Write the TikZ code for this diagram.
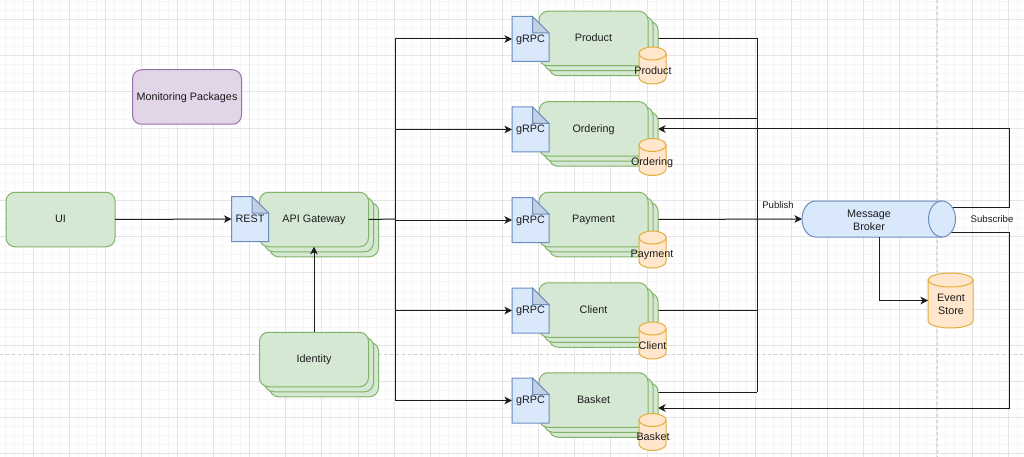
\documentclass[tikz,border=0pt]{standalone}
\usepackage{fontspec}
\setmainfont{Liberation Sans}
\usetikzlibrary{arrows.meta}
\definecolor{greenfill}{HTML}{D5E8D4}
\definecolor{greenline}{HTML}{82B366}
\definecolor{bluefill}{HTML}{DAE8FC}
\definecolor{blueline}{HTML}{6C8EBF}
\definecolor{foldfill}{HTML}{C3CFE2}
\definecolor{orangefill}{HTML}{FFE6CC}
\definecolor{orangeline}{HTML}{E3AE3C}
\definecolor{purplefill}{HTML}{E1D5E7}
\definecolor{purpleline}{HTML}{9673A6}
\definecolor{gridmajor}{HTML}{E4E4E4}
\definecolor{gridminor}{HTML}{F6F6F6}
\definecolor{pageline}{HTML}{CFCFCF}
\definecolor{ink}{HTML}{1C1C1C}
\pgfdeclarelayer{under}
\pgfsetlayers{under,main}
\tikzset{
  basetext/.style={text=ink,font=\fontsize{10.8}{13}\selectfont,align=center,inner sep=0pt,outer sep=0pt},
  oneline/.style={basetext,text height=7.8pt,text depth=1pt},
  card/.style={oneline,draw=greenline,fill=greenfill,line width=1pt,rounded corners=9pt,
    minimum width=109pt,minimum height=54.5pt},
  notetext/.style={oneline,minimum width=37pt,minimum height=45pt},
  notebody/.style={draw=blueline,fill=bluefill,line width=1pt,line join=miter},
  notefold/.style={draw=blueline,fill=foldfill,line width=1pt},
  dbline/.style={draw=orangeline,fill=orangefill,line width=1pt},
  brokerline/.style={draw=blueline,fill=bluefill,line width=1pt},
  anchorbox/.style={inner sep=0pt,outer sep=0pt},
  wire/.style={draw=ink,line width=1pt},
  flow/.style={wire,-{Stealth[length=7.5pt,width=7.5pt,inset=2pt]}},
  caption/.style={text=ink,font=\fontsize{9.6}{12}\selectfont,inner sep=0pt},
}
% card with two offset copies behind it
\newcommand{\stackedcard}[4]{%
  \node[card] (#1-c) at (#2+10,#3+10) {};
  \node[card] (#1-b) at (#2+5,#3+5) {};
  \node[card] (#1) at (#2,#3) {#4};
}
% folded document badge
\newcommand{\notecard}[4]{%
  \begin{scope}[shift={(#2,#3)}]
    \draw[notebody] (-18.5,-22.5) -- (2,-22.5) -- (18.5,-6) -- (18.5,22.5) -- (-18.5,22.5) -- cycle;
    \draw[notefold] (2,-22.5) -- (2,-6) -- (18.5,-6) -- cycle;
    \node[notetext] (#1) at (0,0) {#4};
  \end{scope}
}
% upright database drum: name, centre x, centre y, half width, half height, cap radius
\newcommand{\drum}[6]{%
  \begin{scope}[shift={(#2,#3)}]
    \draw[dbline] (-#4,{-#5+#6}) -- (-#4,{#5-#6})
      arc[start angle=180,end angle=360,x radius=#4pt,y radius=#6pt]
      -- (#4,{-#5+#6}) -- cycle;
    \draw[dbline] (0,{-#5+#6}) ellipse [x radius=#4pt,y radius=#6pt];
    \node[anchorbox,minimum width=2*#4 pt,minimum height=2*#5 pt] (#1) at (0,0) {};
  \end{scope}
}
% one microservice row: cards, gRPC badge, database
\newcommand{\servicerow}[7]{%
  \stackedcard{#1}{593.5}{#2}{#3}
  \notecard{#1-api}{530.5}{#2+0.5}{gRPC}
  \drum{#1-db}{652.5}{#4}{13.5}{18.5}{6.5}
  \node[oneline] (#1-dbt) at (#5,#6) {#7};
}
\begin{document}
\begin{tikzpicture}[x=1pt,y=-1pt]
\useasboundingbox (0,0) rectangle (1024,457);

% drawing-canvas grid and page breaks
\begin{pgfonlayer}{under}
  \fill[white] (0,0) rectangle (1024,457);
  \foreach \k in {-3,...,114} {
    \draw[gridminor,line width=1pt] ({33+9.03*\k},0) -- ({33+9.03*\k},457);
  }
  \foreach \k in {-2,...,50} {
    \draw[gridminor,line width=1pt] (0,{19.5+9.05*\k}) -- (1024,{19.5+9.05*\k});
  }
  \foreach \k in {0,...,28} {
    \draw[gridmajor,line width=1pt] ({33+36.12*\k},0) -- ({33+36.12*\k},457);
  }
  \foreach \k in {0,...,12} {
    \draw[gridmajor,line width=1pt] (0,{19.5+36.2*\k}) -- (1024,{19.5+36.2*\k});
  }
  \draw[pageline,line width=1pt,dash pattern=on 3pt off 3pt] (0,354.5) -- (1024,354.5);
  \draw[pageline,line width=1pt,dash pattern=on 3pt off 3pt] (937.5,0) -- (937.5,457);
\end{pgfonlayer}

% left side
\node[card] (ui) at (60.5,219.5) {UI};
\stackedcard{api}{314}{219.5}{API Gateway}
\notecard{rest}{250}{219}{REST}
\stackedcard{idn}{314}{359.5}{Identity}
\node[card,draw=purpleline,fill=purplefill] (mon) at (187,97) {Monitoring Packages};

% microservices
\servicerow{prod}{38.5}{Product}{65.5}{653}{71}{Product}
\servicerow{ord}{129}{Ordering}{157}{652}{162}{Ordering}
\servicerow{pay}{219.5}{Payment}{249.5}{652}{254}{Payment}
\servicerow{cli}{310}{Client}{340.5}{652.5}{346}{Client}
\servicerow{bsk}{400}{Basket}{432}{653}{437}{Basket}

% message broker: horizontal drum with its open end to the right
\draw[brokerline] (815.5,201) -- (942,201) -- (942,237) -- (815.5,237)
  arc[start angle=270,end angle=90,x radius=13.5pt,y radius=18pt] -- cycle;
\draw[brokerline] (942,219) ellipse [x radius=13.5pt,y radius=18pt];
\node[anchorbox,minimum width=154pt,minimum height=36pt] (broker) at (879,219) {};
\node[basetext] (brokert) at (869,220) {Message\\Broker};

% event store
\drum{store}{950.5}{300.5}{22.5}{27.5}{7}
\node[basetext] (storet) at (951,304.5) {Event\\Store};

\node[caption] (pubt) at (778,205.5) {Publish};
\node[caption] (subt) at (992,219.5) {Subscribe};

% routing points for the shared lines
\coordinate (gwbus) at (395,219);
\coordinate (pubbus) at (757,219);
\coordinate (subrail) at (1009.5,219);
\coordinate (ordout) at ([yshift=10pt]ord.east);
\coordinate (bskout) at ([yshift=8pt]bsk.east);
\coordinate (ordin) at (ord-c.east |- ord.east);
\coordinate (bskin) at ([yshift=2pt]bsk-c.east);
\coordinate (subup) at ([xshift=-6pt,yshift=12pt]broker.east);
\coordinate (subdown) at ([xshift=-6pt,yshift=-13pt]broker.east);

\begin{pgfonlayer}{under}
  % gateway fan-out
  \draw[wire] (gwbus |- prod-api.west) -- (gwbus |- bsk-api.west);
  \foreach \s in {prod,ord,pay,cli,bsk} {
    \draw[flow] (gwbus |- \s-api.west) -- (\s-api.west);
  }
  % event publishing
  \draw[wire] (prod.east) -- (prod.east -| pubbus);
  \draw[wire] (ordout) -- (ordout -| pubbus);
  \draw[wire] (cli.east) -- (cli.east -| pubbus);
  \draw[wire] (bskout) -- (bskout -| pubbus);
  \draw[wire] (prod.east -| pubbus) -- (bskout -| pubbus);
  \draw[flow] (pay.east) -- (broker.west);
  % event subscription
  \draw[flow] (subup) -- (subup -| subrail) -- (ordin -| subrail) -- (ordin);
  \draw[flow] (subdown) -- (subdown -| subrail) -- (bskin -| subrail) -- (bskin);
\end{pgfonlayer}
\draw[wire] (api.east) -- (gwbus);
\draw[flow] (ui.east) -- (rest.west);
\draw[flow] (idn.north) -- (api.south);
\draw[flow] (broker.south) |- (store.west);
\end{tikzpicture}
\end{document}
